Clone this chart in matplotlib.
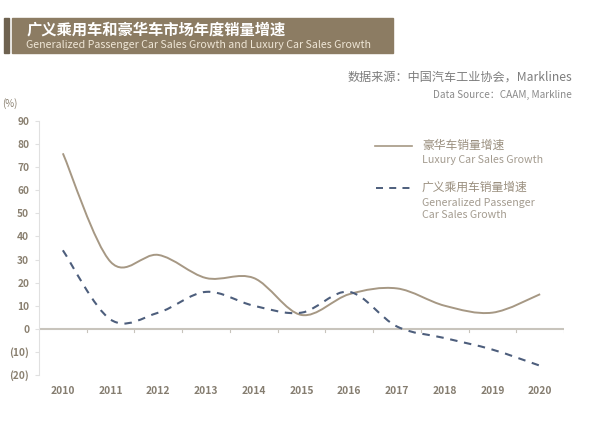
import matplotlib
matplotlib.use("Agg")
import matplotlib.pyplot as plt
from matplotlib.path import Path
from matplotlib.patches import PathPatch, Rectangle
import numpy as np

plt.rcParams['font.family'] = ['Noto Sans CJK SC', 'DejaVu Sans']

years = [2010, 2011, 2012, 2013, 2014, 2015, 2016, 2017, 2018, 2019, 2020]
luxury = [76, 29, 32, 22, 22, 6, 15, 17.5, 10, 7, 15]
general = [34, 4, 7, 16, 10, 7, 16, 1, -4, -9, -16]
yticks = [90, 80, 70, 60, 50, 40, 30, 20, 10, 0, -10, -20]
ytick_labels = ['90', '80', '70', '60', '50', '40', '30', '20', '10', '0', '(10)', '(20)']

title_cn = '广义乘用车和豪华车市场年度销量增速'
title_en = 'Generalized Passenger Car Sales Growth and Luxury Car Sales Growth'
source_cn = '数据来源：中国汽车工业协会，Marklines'
source_en = 'Data Source：CAAM, Markline'
lux_cn, lux_en = '豪华车销量增速', 'Luxury Car Sales Growth'
gen_cn, gen_en = '广义乘用车销量增速', 'Generalized Passenger\nCar Sales Growth'

LUX_C = '#a69884'
GEN_C = '#4d5e7c'
TXT_C = '#8a8070'


def smooth_path(xs, ys, t=0.5):
    xs = np.asarray(xs, float)
    ys = np.asarray(ys, float)
    n = len(xs)
    verts = [(xs[0], ys[0])]
    codes = [Path.MOVETO]
    for i in range(n - 1):
        p0 = np.array([xs[max(i - 1, 0)], ys[max(i - 1, 0)]])
        p1 = np.array([xs[i], ys[i]])
        p2 = np.array([xs[i + 1], ys[i + 1]])
        p3 = np.array([xs[min(i + 2, n - 1)], ys[min(i + 2, n - 1)]])
        c1 = p1 + (p2 - p0) * t / 3
        c2 = p2 - (p3 - p1) * t / 3
        verts += [tuple(c1), tuple(c2), tuple(p2)]
        codes += [Path.CURVE4] * 3
    return Path(verts, codes)


fig = plt.figure(figsize=(5.96, 4.21), dpi=100)

# header banner
fig.patches.append(Rectangle((4 / 596, 1 - 53 / 421), 5 / 596, 35 / 421,
                             transform=fig.transFigure, color='#6e6250', zorder=0))
fig.patches.append(Rectangle((12 / 596, 1 - 53 / 421), 381 / 596, 35 / 421,
                             transform=fig.transFigure, color='#8c7c63', zorder=0))
fig.text(27 / 596, 1 - 29 / 421, title_cn, color='white', fontsize=11,
         fontweight='bold', va='center', ha='left')
fig.text(26 / 596, 1 - 45 / 421, title_en, color='#efe6d6', fontsize=7.7,
         va='center', ha='left')

# source
fig.text(572 / 596, 1 - 77 / 421, source_cn, color='#7d7d7d', fontsize=8.7,
         ha='right', va='center')
fig.text(572 / 596, 1 - 95 / 421, source_en, color='#8a8a8a', fontsize=7.2,
         ha='right', va='center')

ax = fig.add_axes([39 / 596, 1 - 375 / 421, 525 / 596, 254 / 421])
x = np.arange(len(years))
ax.set_xlim(-0.5, len(years) - 0.5)
ax.set_ylim(-20, 90)

ax.add_patch(PathPatch(smooth_path(x, luxury), fill=False, edgecolor=LUX_C,
                       lw=1.4, zorder=3))
ax.add_patch(PathPatch(smooth_path(x, general), fill=False, edgecolor=GEN_C,
                       lw=1.5, ls=(0, (3.6, 3.2)), zorder=3))

for s in ['top', 'right', 'bottom']:
    ax.spines[s].set_visible(False)
ax.spines['left'].set_color('#e0e0e0')
ax.spines['left'].set_linewidth(0.8)
ax.axhline(0, color='#c8c4bc', lw=1.5, zorder=2)

ax.set_yticks(yticks)
ax.set_yticklabels(ytick_labels)
ax.tick_params(axis='y', length=3, color='#e0e0e0', colors=TXT_C, labelsize=7.3,
               pad=4)
for lab in ax.get_yticklabels():
    lab.set_fontweight('bold')
    lab.set_color(TXT_C)

ax.set_xticks(x)
ax.set_xticklabels([str(y) for y in years], fontsize=7.4, fontweight='bold',
                   color='#857d70')
ax.tick_params(axis='x', length=0, pad=0)
for lab in ax.get_xticklabels():
    lab.set_y(-0.042)
# minor ticks on zero line between categories
for b in np.arange(0.5, len(years), 1.0):
    ax.plot([b, b], [0, -1.2], color='#c8c4bc', lw=0.8, zorder=2)

ax.text(-0.055, 1.07, '(%)', transform=ax.transAxes, fontsize=7, color=TXT_C,
        ha='center', va='center')

# legend
fig.lines.append(plt.Line2D([375 / 596, 412 / 596], [1 - 146 / 421] * 2,
                            transform=fig.transFigure, color=LUX_C, lw=1.2))
fig.lines.append(plt.Line2D([376 / 596, 412 / 596], [1 - 188 / 421] * 2,
                            transform=fig.transFigure, color=GEN_C, lw=1.4,
                            ls=(0, (3.6, 3.2))))
fig.text(422 / 596, 1 - 145 / 421, lux_cn, fontsize=8.5, color='#9a8f7f',
         ha='left', va='center')
fig.text(422 / 596, 1 - 160 / 421, lux_en, fontsize=7.7, color='#a49c90',
         ha='left', va='center')
fig.text(422 / 596, 1 - 187 / 421, gen_cn, fontsize=8.5, color='#9a8f7f',
         ha='left', va='center')
fig.text(422 / 596, 1 - 209 / 421, gen_en, fontsize=7.7, color='#a49c90',
         ha='left', va='center', linespacing=1.3)

fig.savefig('out.png', dpi=100)
